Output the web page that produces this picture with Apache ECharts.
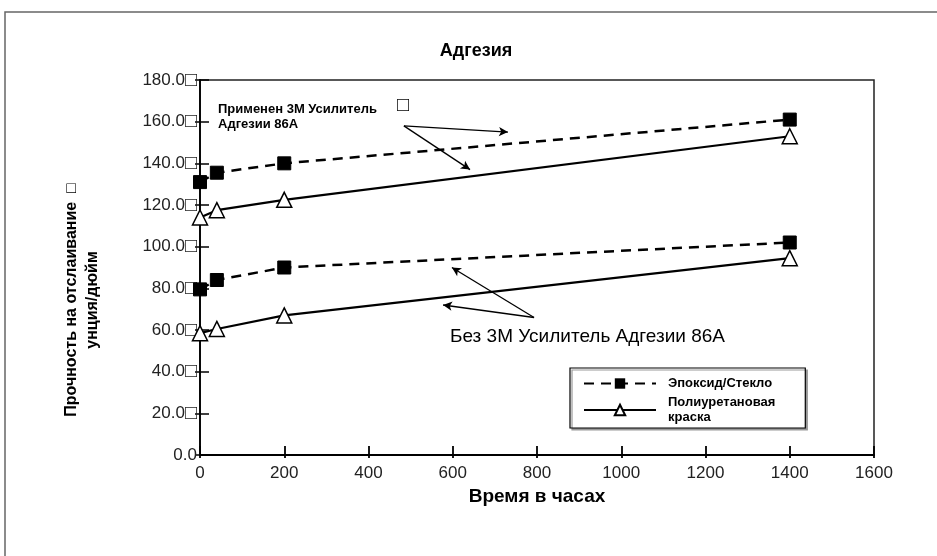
<!DOCTYPE html>
<html>
<head>
<meta charset="utf-8">
<script src="https://cdn.jsdelivr.net/npm/echarts@6/dist/echarts.min.js"></script>
<style>
  html, body { margin: 0; padding: 0; background: #fff; }
  #chart { width: 937px; height: 556px; }
</style>
</head>
<body>
<div id="chart"></div>
<script>
// hours
const hours = [0, 40, 200, 1400]
// with 3M adhesion promoter 86A
const epoxyWith = [131, 135.5, 140, 161]
const paintWith = [114, 117.5, 122.5, 153]
// without promoter
const epoxyWithout = [79.5, 84, 90, 102]
const paintWithout = [58.5, 60.5, 67, 94.5]

const yTickLabels = ['0.0', '20.0', '40.0', '60.0', '80.0', '100.0', '120.0', '140.0', '160.0', '180.0']
const xTickLabels = ['0', '200', '400', '600', '800', '1000', '1200', '1400', '1600']

// annotation arrows: [from, to] in data units
const arrowsWith = [
  [[484, 158], [731, 155]],
  [[484, 158], [641, 137]]
]
const arrowsWithout = [
  [[793, 66], [598, 90]],
  [[793, 66], [577, 72]]
]

const nameEpoxy = 'Эпоксид/Стекло'
const namePaint = 'Полиуретановая\nкраска'

const font = 'Liberation Sans, Arial, sans-serif'

const pairs = (ys) => hours.map((h, i) => [h, ys[i]])

const epoxyStyle = {
  type: 'line',
  name: nameEpoxy,
  symbol: 'rect',
  symbolSize: 13,
  itemStyle: { color: '#000', borderColor: '#000' },
  lineStyle: { color: '#000', width: 2.5, type: [10, 7] },
  z: 3
}
const paintStyle = {
  type: 'line',
  name: namePaint,
  symbol: 'triangle',
  symbolSize: 15,
  itemStyle: { color: '#fff', borderColor: '#000', borderWidth: 1.5 },
  lineStyle: { color: '#000', width: 2.2 },
  z: 3
}

const arrowLines = (list) => list.map(([a, b]) => [{ coord: a }, { coord: b }])

const chart = echarts.init(document.getElementById('chart'))

const option = {
  backgroundColor: '#fff',
  animation: false,
  title: {
    text: 'Адгезия',
    left: 471,
    top: 37,
    textAlign: 'center',
    textStyle: { fontFamily: font, fontSize: 18, fontWeight: 'bold', color: '#000' }
  },
  grid: {
    left: 200,
    right: 63,
    top: 80,
    bottom: 101,
    show: true,
    borderColor: '#222',
    borderWidth: 1.5
  },
  legend: {
    data: [nameEpoxy, namePaint],
    orient: 'vertical',
    left: 570,
    top: 368,
    padding: [8, 30, 3, 13],
    itemWidth: 72,
    itemHeight: 13,
    itemGap: 4,
    borderColor: '#000',
    borderWidth: 1.2,
    shadowColor: '#999',
    shadowOffsetX: 2,
    shadowOffsetY: 2,
    backgroundColor: '#fff',
    textStyle: {
      fontFamily: font, fontSize: 13, fontWeight: 'bold', color: '#000',
      lineHeight: 15, padding: [0, 0, 0, 7]
    }
  },
  xAxis: [
    {
      type: 'value',
      min: 0,
      max: 1600,
      interval: 200,
      name: 'Время в часах',
      nameLocation: 'middle',
      nameGap: 28,
      nameTextStyle: { fontFamily: font, fontSize: 19, fontWeight: 'bold', color: '#000' },
      axisLine: { lineStyle: { color: '#000', width: 1.8 } },
      axisTick: { inside: true, length: 9, lineStyle: { color: '#000', width: 1.8 } },
      axisLabel: {
        fontFamily: font, fontSize: 17, color: '#222', margin: 10,
        formatter: (v) => xTickLabels[Math.round(v / 200)]
      },
      splitLine: { show: false }
    },
    {
      // short outer half of the crossing ticks
      type: 'value',
      position: 'bottom',
      min: 0,
      max: 1600,
      interval: 200,
      axisLine: { show: false },
      axisTick: { inside: false, length: 3, lineStyle: { color: '#000', width: 1.8 } },
      axisLabel: { show: false },
      splitLine: { show: false }
    }
  ],
  yAxis: [
    {
      type: 'value',
      min: 0,
      max: 180,
      interval: 20,
      axisLine: { lineStyle: { color: '#000', width: 1.8 } },
      axisTick: { inside: true, length: 9, lineStyle: { color: '#000', width: 1.5 } },
      axisLabel: {
        fontFamily: font, fontSize: 17, color: '#222', margin: 3,
        formatter: (v) => {
          const i = Math.round(v / 20)
          return i === 0 ? yTickLabels[i] : yTickLabels[i] + '{b|□}'
        },
        rich: { b: { fontSize: 20, color: '#222', fontFamily: font } }
      },
      splitLine: { show: false }
    },
    {
      type: 'value',
      position: 'left',
      min: 0,
      max: 180,
      interval: 20,
      axisLine: { show: false },
      axisTick: { inside: false, length: 5, lineStyle: { color: '#000', width: 1.5 } },
      axisLabel: { show: false },
      splitLine: { show: false }
    }
  ],
  series: [
    Object.assign({}, epoxyStyle, { data: pairs(epoxyWith) }),
    Object.assign({}, paintStyle, { data: pairs(paintWith) }),
    Object.assign({}, epoxyStyle, { data: pairs(epoxyWithout) }),
    Object.assign({}, paintStyle, { data: pairs(paintWithout) }),
    {
      type: 'line',
      name: 'arrows',
      data: [],
      markLine: {
        silent: true,
        symbol: ['none', 'arrow'],
        symbolSize: [7, 9],
        label: { show: false },
        lineStyle: { color: '#000', width: 1.3, type: 'solid' },
        data: arrowLines(arrowsWith).concat(arrowLines(arrowsWithout))
      }
    }
  ],
  graphic: [
    {
      type: 'rect',
      shape: { x: 5, y: 12, width: 940, height: 560 },
      style: { fill: 'none', stroke: '#666', lineWidth: 1.5 },
      z: -1
    },
    {
      type: 'text',
      x: 82,
      y: 300,
      rotation: Math.PI / 2,
      style: {
        text: 'Прочность на отслаивание  □\nунция/дюйм',
        font: 'bold 16px ' + font,
        fill: '#000',
        align: 'center',
        verticalAlign: 'middle',
        lineHeight: 21
      }
    },
    {
      type: 'text',
      left: 218,
      top: 102,
      style: {
        text: 'Применен 3M Усилитель\nАдгезии 86A',
        font: 'bold 13px ' + font,
        fill: '#000',
        lineHeight: 15
      }
    },
    {
      type: 'text',
      left: 397,
      top: 95,
      style: { text: '□', font: '20px ' + font, fill: '#000' }
    },
    {
      type: 'text',
      left: 450,
      top: 327,
      style: { text: 'Без 3M Усилитель Адгезии 86A', font: '19px ' + font, fill: '#000' }
    }
  ]
}

chart.setOption(option)
</script>
</body>
</html>
